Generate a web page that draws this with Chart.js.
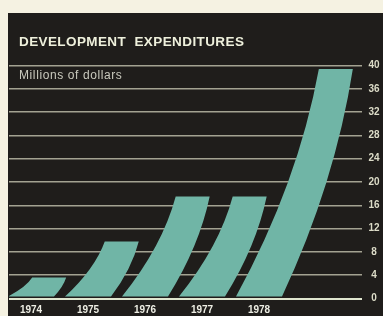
<!DOCTYPE html>
<html>
<head>
<meta charset="utf-8">
<title>Development expenditures</title>
<script src="https://cdn.jsdelivr.net/npm/chart.js@4"></script>
<style>
  html, body { margin: 0; padding: 0; background: #f5f2e2; }
  #wrap { width: 383px; height: 316px; }
</style>
</head>
<body>
<div id="wrap"><canvas id="myChart"></canvas></div>
<script>
const years = [1974, 1975, 1976, 1977, 1978];
const spending = [3.6, 9.8, 17.5, 17.5, 39.4]; // millions of dollars
const yTicks = [0, 4, 8, 12, 16, 20, 24, 28, 32, 36, 40];
const titleText = 'DEVELOPMENT  EXPENDITURES';
const unitText = 'Millions of dollars';

const paper = '#f5f2e2';
const ink = '#1f1d1b';
const teal = '#70b5a6';
const gridColor = '#a3a291';
const baseColor = '#dfe6cf';
const fontFamily = '"Liberation Sans", Arial, sans-serif';

// dark panel + heading text
const panel = {
    id: 'panel',
    beforeDraw(chart) {
        const c = chart.ctx;
        c.save();
        c.fillStyle = paper;
        c.fillRect(0, 0, chart.width, chart.height);
        c.fillStyle = ink;
        c.fillRect(8, 13, chart.width - 8, chart.height - 13);

        c.textBaseline = 'alphabetic';
        c.textAlign = 'left';
        c.fillStyle = '#eef0dc';
        c.font = 'bold 13.5px ' + fontFamily;
        c.letterSpacing = '0.4px';
        c.fillText(titleText, 19, 46);

        c.fillStyle = '#c9c9bd';
        c.font = '12px ' + fontFamily;
        c.letterSpacing = '0.6px';
        c.fillText(unitText, 19, 78.5);
        c.letterSpacing = '0px';
        c.restore();
    }
};

// each bar is drawn as a curved band leaning right, from the bar's own geometry
const bands = {
    id: 'bands',
    afterDatasetsDraw(chart) {
        const c = chart.ctx;
        const area = chart.chartArea;
        const bars = chart.getDatasetMeta(0).data;
        c.save();
        c.beginPath();
        c.rect(area.left, area.top - 10, area.right - area.left, area.bottom - area.top + 9);
        c.clip();
        c.fillStyle = teal;
        bars.forEach(bar => {
            const bottom = bar.base - 1;
            const h = bottom - bar.y;
            const lean = 3.3 * Math.pow(h, 0.58);
            const lb = bar.x - 23, rb = bar.x + 23;
            const lt = bar.x + lean - 17, rt = bar.x + lean + 17;
            const mid = (bottom + bar.y) / 2;
            c.beginPath();
            c.moveTo(lb, bottom);
            c.quadraticCurveTo(lb + 0.75 * (lt - lb), mid, lt, bar.y);
            c.lineTo(rt, bar.y);
            c.quadraticCurveTo(rb + 0.75 * (rt - rb), mid, rb, bottom);
            c.closePath();
            c.fill();
        });
        c.restore();
    }
};

const ctx = document.getElementById('myChart');

new Chart(ctx, {
    type: 'bar',
    data: {
        datasets: [{
            label: 'Development expenditures',
            data: years.map((yr, i) => ({ x: yr, y: spending[i] })),
            backgroundColor: 'rgba(0,0,0,0)',
            borderWidth: 0
        }]
    },
    options: {
        responsive: true,
        maintainAspectRatio: false,
        animation: false,
        layout: { padding: { left: 9, top: 65.5, right: 0, bottom: 0 } },
        plugins: {
            legend: { display: false },
            tooltip: { enabled: false }
        },
        scales: {
            x: {
                type: 'linear',
                offset: false,
                min: 1973.614,
                max: 1979.807,
                afterBuildTicks: s => { s.ticks = years.map(v => ({ value: v })); },
                afterFit: s => { s.height = 17.5; },
                grid: { display: false, drawTicks: false },
                border: { display: false },
                ticks: {
                    padding: 5.5,
                    autoSkip: false,
                    maxRotation: 0,
                    color: '#eeeee4',
                    font: { family: fontFamily, size: 10, weight: 'bold' },
                    callback: v => String(v)
                }
            },
            y: {
                position: 'right',
                min: 0,
                max: 40,
                afterBuildTicks: s => { s.ticks = yTicks.map(v => ({ value: v })); },
                afterFit: s => { s.width = 21; },
                grid: {
                    drawTicks: false,
                    color: c => c.tick.value === 0 ? baseColor : gridColor,
                    lineWidth: c => c.tick.value === 0 ? 2 : 1.5
                },
                border: { display: false },
                ticks: {
                    padding: 6.5,
                    crossAlign: 'center',
                    color: '#dcdcc8',
                    font: { family: fontFamily, size: 10, weight: 'bold' }
                }
            }
        }
    },
    plugins: [panel, bands]
});
</script>
</body>
</html>
